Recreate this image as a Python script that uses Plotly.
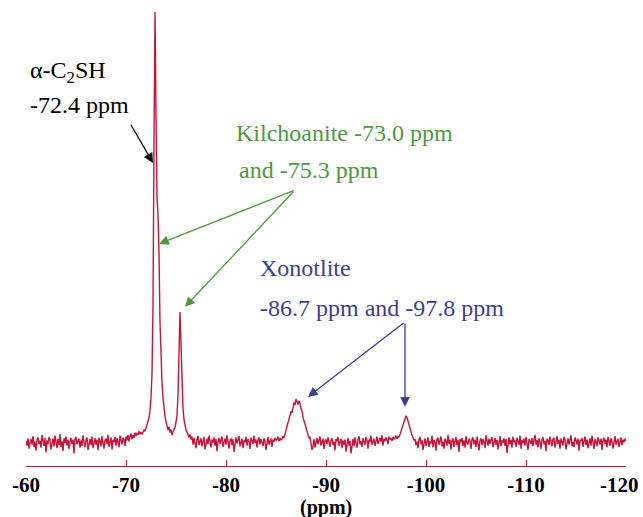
import plotly.graph_objects as go

# ---- Spectrum data (chemical shift in ppm, intensity in arbitrary units) ----
# Each segment: start shift, step (ppm), intensity values
seg1_start, seg1_step = -60.0, 0.1
seg1_vals = [0.4, -0.6, 1.1, -1.3, 0.2, 0.9, -0.4, 1.6, -0.9, 0.3,
             -1.8, 0.7, 1.3, -0.2, 0.5, -1.1, 1.9, 0.1, -0.7, 1.2,
             -2.2, 0.6, -0.3, 1.4, 0.8, -1.5, 0.2, 1.0, -0.8, 1.7,
             0.3, -1.2, 0.9, -0.5, 2.1, -0.9, 0.4, -1.9, 1.1, 0.0,
             1.5, -0.6, 0.7, -1.4, 0.3, 1.2, -0.2, 0.8, -2.4, 0.9,
             1.4, -0.3, 0.5, 1.0, -1.1, 0.6, -0.7, 1.8, 0.2, -1.0,
             0.7, 1.3, -1.6, 0.4, 0.9, -0.5, 1.5, -1.2, 0.1, 1.1,
             -0.4, 0.8, -1.7, 1.2, 0.5, -0.8, 1.6, 0.3, -1.3, 0.6,
             1.0, -0.2, 1.9, -0.9, 0.4, 1.3, -1.5, 0.7, 0.2, 1.4,
             -0.6, 1.1, 0.3, -1.0, 1.7, 0.5, -0.3, 1.2, 0.8, -0.7,
             1.5, 0.6, 1.9, 0.4, 1.3, 2.2, 0.9, 1.8, 1.2, 2.4,
             1.6, 2.3, 1.9, 2.7, 2.1, 2.5, 2.0]

seg2_start, seg2_step = -71.7, 0.1
seg2_vals = [2.6, 3.0, 2.7, 3.5, 3.8, 4.6, 5.8, 7.5, 10.5, 16.0, 32.0, 70.0, 100.0,
             76.0, 57.0, 53.0, 44.0, 28.0, 19.0, 14.0, 10.5, 8.0, 6.2,
             5.0, 4.2, 3.0, 3.8, 2.4, 3.1, 1.8, 2.6, 3.2, 3.6,
             4.8, 6.5, 11.0, 20.0, 30.4, 23.0, 13.0, 8.0, 5.5, 4.2,
             3.0]

seg3_start, seg3_step = -76.1, 0.1
seg3_vals = [2.6, 2.1, 1.3, 2.0, 0.8, 1.5, -0.4, 1.2, 0.3, -1.2,
             0.9, 1.6, -0.5, 0.4, 1.1, -0.8, 0.6, 1.4, -1.5, 0.2,
             1.0, -0.3, 1.7, 0.5, -1.0, 0.8, 0.1, 1.3, -0.6, 0.9,
             -1.9, 0.4, 1.2, -0.2, 0.7, 1.5, -0.9, 0.3, 1.0, -0.4,
             1.8, 0.2, -1.3, 0.6, 1.1, -0.5, 0.9, -2.1, 0.5, 1.3,
             -0.1, 0.7, 1.6, -0.8, 0.4, 1.0, -1.2, 0.6, 0.2, 1.4,
             -0.6, 0.9, 0.3, -1.4, 1.2, 0.5, -0.2, 1.7, 0.0, 0.8,
             -1.0, 0.6, 1.3, -0.3, 0.9, 0.2, -0.7, 1.1, 0.4, -1.6,
             0.7, 1.4, -0.4, 0.5, 1.0, -0.9, 0.8, 0.3, 1.2, 0.6,
             0.9, 1.5, 0.4, 1.1, 0.7]

seg4_start, seg4_step = -85.6, 0.1
seg4_vals = [0.8, 1.6, 1.2, 2.1, 2.6, 3.4, 4.3, 5.5, 6.4, 7.3,
             7.0, 8.6, 9.4, 8.8, 10.2, 9.6, 8.9, 9.8, 9.2, 8.0,
             7.4, 6.0, 5.2, 4.0, 3.6, 2.5, 2.0, 1.1, 1.4, -0.2,
             -1.6]

seg5_start, seg5_step = -88.7, 0.1
seg5_vals = [-0.8, 0.9, -1.1, 0.4, 1.2, -0.3, 0.7, 1.5, -0.6, 0.2,
             1.0, -1.4, 0.5, 0.8, -0.2, 1.3, 0.1, -0.9, 0.6, 1.1,
             -0.5, 0.3, -1.7, 0.9, 0.4, 1.4, -0.7, 0.2, 1.0, -1.2,
             0.6, -0.4, 0.8, -2.0, 0.3, 1.2, -0.6, 0.5, -2.4, 0.1,
             0.9, -0.8, 1.3, 0.0, -1.1, 0.7, 1.6, -0.3, 0.4, -0.9,
             1.1, 0.3, -0.5, 1.4, 0.6, -1.3, 0.8, 0.2, 1.7, -0.4,
             0.5, 1.0, -0.7, 0.9, 1.5, -0.2, 0.6, 1.2, 0.3, 1.8,
             -0.6, 1.0, 0.4, 1.3, 0.7, -0.3, 1.5, 0.8, 1.1, 0.5,
             1.4, 0.9, 1.2, 1.7, 1.0, 1.6, 1.3]

seg6_start, seg6_step = -97.4, 0.1
seg6_vals = [2.0, 2.4, 3.0, 3.9, 4.5, 5.6, 6.3, 5.9, 5.0, 4.1,
             3.4, 2.4, 1.8, 1.2, 0.6]

seg7_start, seg7_step = -98.9, 0.1
seg7_vals = [0.9, -0.5, 0.3, -1.2, 0.8, 1.4, -0.3, 0.6, -1.6, 0.2,
             1.1, -0.7, 0.5, 1.3, -0.9, 0.4, -0.1, 1.7, -1.0, 0.7,
             0.2, -1.8, 0.9, 1.2, -0.4, 0.6, 1.5, -0.8, 0.3, -1.3,
             1.0, 0.4, -0.6, 1.9, -0.2, 0.8, -1.5, 0.5, 1.1, -0.9,
             0.3, 1.4, -0.5, 0.7, -2.1, 0.9, 0.2, 1.2, -0.7, 0.6,
             -1.1, 1.6, 0.1, -0.4, 1.0, 0.5, -1.4, 0.8, 1.3, -0.3,
             0.7, -0.9, 1.5, 0.2, -1.7, 0.6, 1.1, -0.5, 0.9, 0.3,
             -1.2, 1.8, 0.4, -0.6, 1.0, -0.2, 0.7, 1.4, -1.0, 0.5,
             1.2, -0.4, 0.8, -1.5, 0.3, 1.6, -0.8, 0.6, 0.1, 1.1,
             -0.7, 0.9, -2.3, 0.5, 1.3, -0.3, 0.8, -1.1, 1.5, 0.2,
             0.6, -0.9, 1.2, 0.4, -0.5, 1.7, -1.3, 0.7, 0.0, 1.0,
             -0.6, 1.4, 0.3, -1.6, 0.9, 0.5, -0.2, 1.2, -0.8, 0.6,
             1.9, -0.4, 0.7, -1.0, 1.1, 0.2, -1.4, 0.8, 1.3, -0.3,
             0.5, -1.9, 1.0, 0.6, -0.5, 1.5, 0.1, -0.8, 0.9, 1.2,
             -1.1, 0.4, 1.6, -0.2, 0.7, -1.3, 1.0, 0.3, -0.6, 1.4,
             0.8, -1.5, 0.5, 1.1, -0.4, 0.9, 1.8, -0.7, 0.2, -1.0,
             1.3, 0.6, -0.3, 1.0, -1.8, 0.7, 0.4, 1.2, -0.9, 0.5,
             1.5, -0.5, 0.8, -1.2, 0.3, 1.1, -0.6, 1.7, 0.2, -1.4,
             0.9, 0.4, -0.8, 1.3, 0.6, -0.3, 1.0, -1.6, 0.7, 1.2,
             -0.2, 0.8, -1.0, 1.4, 0.5, -0.7, 1.1, 0.3, -1.3, 0.9,
             1.6, -0.4, 0.6, 1.0, -0.9, 0.4, 1.3, -0.5, 0.8, 0.2,
             1.0, 0.5]

segments = [(seg1_start, seg1_step, seg1_vals), (seg2_start, seg2_step, seg2_vals),
            (seg3_start, seg3_step, seg3_vals), (seg4_start, seg4_step, seg4_vals),
            (seg5_start, seg5_step, seg5_vals), (seg6_start, seg6_step, seg6_vals),
            (seg7_start, seg7_step, seg7_vals)]

tick_vals = [-60, -70, -80, -90, -100, -110, -120]
tick_text = ["-60", "-70", "-80", "-90", "-100", "-110", ""]
last_tick_text = "-120"   # drawn separately so it stays inside the page edge

shift, intensity = [], []
for start, step, vals in segments:
    for i, v in enumerate(vals):
        shift.append(round(start - step * i, 2))
        intensity.append(v)

RED = "#cc1137"
GREEN = "#4d9a3c"
BLUE = "#3b3e94"
SERIF = "Liberation Serif"
TICKFONT = dict(family=SERIF, size=21, color="black", weight="bold")

fig = go.Figure()
fig.add_trace(go.Scatter(x=shift, y=intensity, mode="lines",
                         line=dict(color=RED, width=1.4), hoverinfo="skip",
                         showlegend=False))

def label(x, y, text, color):
    fig.add_annotation(x=x, y=y, xref="x", yref="y", text=text, showarrow=False,
                       xanchor="left", yanchor="middle",
                       font=dict(family=SERIF, size=24, color=color))

def arrow(tail, tip, color):
    fig.add_annotation(x=tip[0], y=tip[1], ax=tail[0], ay=tail[1],
                       xref="x", yref="y", axref="x", ayref="y", text="",
                       showarrow=True, arrowhead=2, arrowsize=1.5, arrowwidth=1.3,
                       arrowcolor=color, standoff=0, startstandoff=0)

label(-60.2, 86.1, "α-C<sub>2</sub>SH", "black")
label(-60.2, 78.4, "-72.4 ppm", "black")
arrow((-70.4, 74.2), (-72.7, 65.0), "#111111")

label(-80.8, 71.9, "Kilchoanite -73.0 ppm", GREEN)
label(-81.1, 63.3, "and -75.3 ppm", GREEN)
arrow((-86.9, 58.7), (-73.3, 46.2), GREEN)
arrow((-86.9, 58.7), (-75.9, 31.6), GREEN)

label(-83.2, 40.6, "Xonotlite", BLUE)
label(-83.2, 31.3, "-86.7 ppm and -97.8 ppm", BLUE)
arrow((-97.9, 28.1), (-88.2, 10.7), BLUE)
arrow((-97.9, 28.1), (-97.9, 8.4), BLUE)

# last tick label, right-aligned just inside the page
fig.add_annotation(x=1, y=-0.041, xref="paper", yref="paper", text=last_tick_text,
                   showarrow=False, xanchor="right", yanchor="middle", xshift=15,
                   font=TICKFONT)

fig.add_annotation(x=0.5, y=-0.088, xref="paper", yref="paper", text="(ppm)",
                   showarrow=False, xanchor="center", yanchor="middle",
                   font=dict(family=SERIF, size=20, color="black", weight="bold"))

fig.update_layout(
    width=643, height=517,
    margin=dict(l=26, r=17, t=0, b=51, autoexpand=False),
    paper_bgcolor="white", plot_bgcolor="white",
    xaxis=dict(range=[-60, -120], tickvals=tick_vals, ticktext=tick_text,
               ticks="inside", ticklen=6, tickwidth=1.3, tickcolor=RED,
               showline=True, linecolor=RED, linewidth=1.3, automargin=False,
               showgrid=False, zeroline=False,
               tickfont=TICKFONT),
    yaxis=dict(range=[-5.34, 102.8], visible=False, showgrid=False, zeroline=False),
)

fig.write_html("out.html", config={"displayModeBar": False},
               post_script="document.body.style.margin='0px';document.body.style.overflow='hidden';")
